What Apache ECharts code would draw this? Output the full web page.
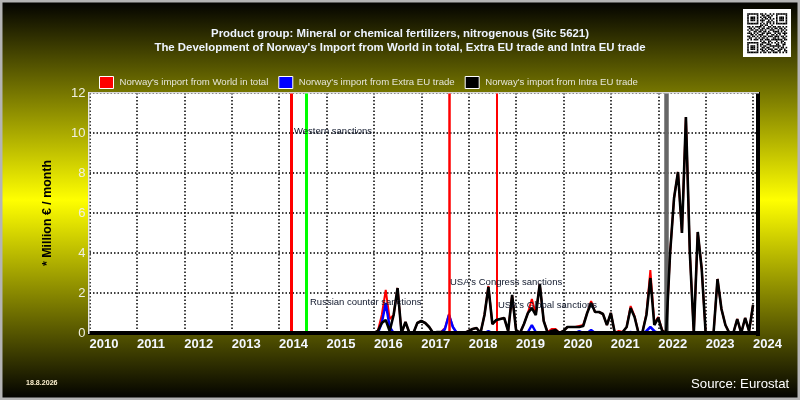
<!DOCTYPE html>
<html>
<head>
<meta charset="utf-8">
<style>html,body{margin:0;padding:0;background:#000}#chart{width:800px;height:400px}</style>
<script src="https://cdn.jsdelivr.net/npm/echarts@6/dist/echarts.min.js"></script>
</head>
<body>
<div id="chart"></div>
<script>
// 月份 2010-01 .. 2024-02
const months = [];
for (let y = 2010; y <= 2024; y++) {
    for (let m = 1; m <= 12; m++) {
        if (y === 2024 && m > 2) break;
        months.push(y + '-' + String(m).padStart(2, '0'));
    }
}

const quietYears = [0,0,0,0,0,0,0,0,0,0,0,0];

const worldTotal = [].concat(
    quietYears, quietYears, quietYears, quietYears, quietYears, quietYears,
    [0,.1,.9,2.15,.7,.9,2.25,0,.55,0,0,.5],
    [.6,.5,.3,0,.05,.05,.25,.95,.3,0,0,0],
    [.1,.2,.25,0,.9,2.35,.45,.65,.7,.75,.1,1.9],
    [.15,0,.45,1,1.7,.95,2.45,.6,.05,.2,.2,0],
    [.1,.3,.3,.3,.35,.4,1,1.6,1.05,1.05,.95,.4],
    [1,0,.1,.05,.3,1.35,.85,0,.05,.95,3.15,.5],
    [.8,.15,0,4,6.75,8.05,5,10.8,4,0,5.05,3.25],
    [0,0,0,2.7,1.2,.4,0,0,.7,0,.75,.1],
    [1.4]
);
const extraEu = [].concat(
    quietYears, quietYears, quietYears, quietYears, quietYears, quietYears,
    [0,0,.5,1.5,.3,0,0,0,0,0,0,0],
    [0,0,0,0,0,0,.2,.9,.3,0,0,0],
    [0,0,0,0,0,.1,0,0,0,0,0,0],
    [0,0,0,.05,.4,.05,0,0,0,.1,.05,0],
    [0,0,0,0,.1,0,0,.15,0,0,0,0],
    [0,0,0,0,0,.05,0,0,0,.1,.3,.1],
    quietYears,
    quietYears,
    [0]
);
const intraEu = [].concat(
    quietYears, quietYears, quietYears, quietYears, quietYears, quietYears,
    [0,.1,.5,.65,.1,.9,2.25,0,.55,0,0,.5],
    [.6,.5,.3,0,.05,.05,.05,0,0,0,0,0],
    [.1,.2,.25,0,.9,2.3,.45,.65,.7,.75,.1,1.9],
    [.15,0,.45,1,1.25,.9,2.45,.6,0,.1,.15,0],
    [.1,.3,.3,.3,.3,.35,1,1.5,1.05,1.05,.95,.4],
    [1,0,0,.05,.3,1.25,.8,0,.05,.9,2.75,.4],
    [.75,.1,0,4,6.75,8.05,5,10.8,4,0,5.05,3.2],
    [0,0,0,2.7,1.2,.4,0,0,.7,0,.75,.1],
    [1.4]
);

const seriesNames = ["Norway's import from World in total", "Norway's import from Extra EU trade", "Norway's import from Intra EU trade"];
const sanctionMonths = ['2014-04', '2014-08', '2017-08', '2018-08', '2022-03'];

// 标注文字
const notes = [
    ['Western sanctions', 294, 130],
    ['Russian counter sanctions', 310, 301],
    ["USA's Congress sanctions", 450, 281],
    ["USA's Global sanctions", 498, 304]
];

// 二维码图案
const qrRows = [
    '1111111011010010101111111',
    '1000001001101101001000001',
    '1011101010110110001011101',
    '1011101001011010101011101',
    '1011101011100101001011101',
    '1000001001001110101000001',
    '1111111010101010101111111',
    '0000000011011001000000000',
    '1101011110100110110110101',
    '0110100101101101011011010',
    '1011011011010011100101101',
    '0100110110110100111101010',
    '1110101001101110010110111',
    '0011010111001001101010010',
    '1101101010110111011101101',
    '0110010101101000110100110',
    '1010111011011101111111011',
    '0000000010100110001001100',
    '1111111001110101010101010',
    '1000001011001110001100110',
    '1011101010110011111110100',
    '1011101001101100100101101',
    '1011101011010111011011010',
    '1000001001101001100110011',
    '1111111010110110111010101'
];

const FONT = '"Liberation Sans", Arial, sans-serif';
const chart = echarts.init(document.getElementById('chart'));

const graphics = [
    { type: 'rect', shape: { x: 1, y: 1, width: 798, height: 398 }, style: { fill: 'none', stroke: '#b4b4b4', lineWidth: 3 }, z: 1 },
    { type: 'rect', shape: { x: 756, y: 92, width: 4, height: 244 }, style: { fill: '#000' }, z: 15 },
    { type: 'rect', shape: { x: 88, y: 92, width: 671, height: 1.5 }, style: { fill: '#d8d8d8' }, z: 15 },
    { type: 'rect', shape: { x: 88, y: 92, width: 1.5, height: 242 }, style: { fill: '#e8e8e8' }, z: 15 },
    { type: 'rect', shape: { x: 743, y: 9, width: 48, height: 48 }, style: { fill: '#fff' }, z: 5 },
    { type: 'text', left: 691, top: 378, style: { text: 'Source: Eurostat', fill: '#fff', font: '13.2px ' + FONT }, z: 6 },
    { type: 'text', left: 26, top: 380, style: { text: '18.8.2026', fill: '#fff2d0', font: 'bold 7.1px ' + FONT }, z: 6 }
];
notes.forEach(n => {
    graphics.push({
        type: 'text', left: n[1], top: n[2] - 4,
        style: { text: n[0], fill: '#10182c', font: '9.5px ' + FONT }, z: 20
    });
});
qrRows.forEach((row, r) => {
    row.split('').forEach((cell, c) => {
        if (cell === '1') {
            graphics.push({
                type: 'rect', shape: { x: 747.2 + c * 1.6, y: 13.2 + r * 1.6, width: 1.6, height: 1.6 },
                style: { fill: '#000' }, z: 6
            });
        }
    });
});

chart.setOption({
    animation: false,
    backgroundColor: {
        type: 'linear', x: 0, y: 0, x2: 0, y2: 1,
        colorStops: [
            { offset: 0, color: '#000000' },
            { offset: 0.5, color: '#ffff00' },
            { offset: 1, color: '#000000' }
        ]
    },
    title: {
        text: "Product group: Mineral or chemical fertilizers, nitrogenous (Sitc 5621)\nThe Development of Norway's Import from World in total, Extra EU trade and Intra EU trade",
        left: 395, top: 22, textAlign: 'center',
        textStyle: { color: '#eef4ff', fontFamily: FONT, fontSize: 11.4, fontWeight: 'bold', lineHeight: 14 }
    },
    legend: {
        left: 94, top: 71, itemWidth: 14, itemHeight: 12, itemGap: 10,
        icon: 'rect',
        data: seriesNames,
        itemStyle: { borderColor: '#fff', borderWidth: 1 },
        textStyle: { color: '#e6e6d8', fontFamily: FONT, fontSize: 9.6, padding: [6, 0, 0, 1] }
    },
    grid: { left: 89.5, right: 43, top: 93, bottom: 67, show: true, backgroundColor: '#fff', borderWidth: 0 },
    xAxis: {
        type: 'category', data: months, boundaryGap: false, z: 10,
        axisLine: { lineStyle: { color: '#000', width: 4 } },
        axisTick: { show: false },
        axisLabel: {
            interval: 11, align: 'left', margin: 5, color: '#f4f8ff',
            fontFamily: FONT, fontSize: 13, fontWeight: 'bold',
            formatter: v => v.slice(0, 4)
        },
        splitLine: { show: true, interval: 11, lineStyle: { color: '#000', type: [1.5, 2], width: 1.5 } }
    },
    yAxis: {
        type: 'value', min: 0, max: 12, interval: 2,
        name: '* Million € / month', nameLocation: 'middle', nameGap: 36,
        nameTextStyle: { color: '#000', fontFamily: FONT, fontSize: 12.4, fontWeight: 'bold' },
        axisLine: { show: false },
        axisTick: { show: false },
        axisLabel: { color: '#f0f0e0', fontFamily: FONT, fontSize: 13, margin: 4 },
        splitLine: { show: true, lineStyle: { color: '#000', type: [1.5, 2], width: 1.5 } }
    },
    series: [
        {
            name: seriesNames[0], type: 'line', data: worldTotal, showSymbol: false, z: 3,
            lineStyle: { color: '#ff0000', width: 2 }, itemStyle: { color: '#ff0000' },
            markLine: {
                silent: true, symbol: 'none', animation: false, label: { show: false },
                data: [
                    { xAxis: sanctionMonths[0], lineStyle: { color: '#ff0000', width: 3, type: 'solid' } },
                    { xAxis: sanctionMonths[1], lineStyle: { color: '#00ff00', width: 3, type: 'solid' } },
                    { xAxis: sanctionMonths[2], lineStyle: { color: '#ff0000', width: 2.5, type: 'solid' } },
                    { xAxis: sanctionMonths[3], lineStyle: { color: '#ff0000', width: 2, type: 'solid' } },
                    { xAxis: sanctionMonths[4], lineStyle: { color: '#666666', width: 4.5, type: 'solid' } }
                ]
            }
        },
        {
            name: seriesNames[1], type: 'line', data: extraEu, showSymbol: false, z: 4,
            lineStyle: { color: '#0000ff', width: 2.5 }, itemStyle: { color: '#0000ff' }
        },
        {
            name: seriesNames[2], type: 'line', data: intraEu, showSymbol: false, z: 5,
            lineStyle: { color: '#000000', width: 2.6 }, itemStyle: { color: '#000000' }
        }
    ],
    graphic: graphics
});
</script>
</body>
</html>
